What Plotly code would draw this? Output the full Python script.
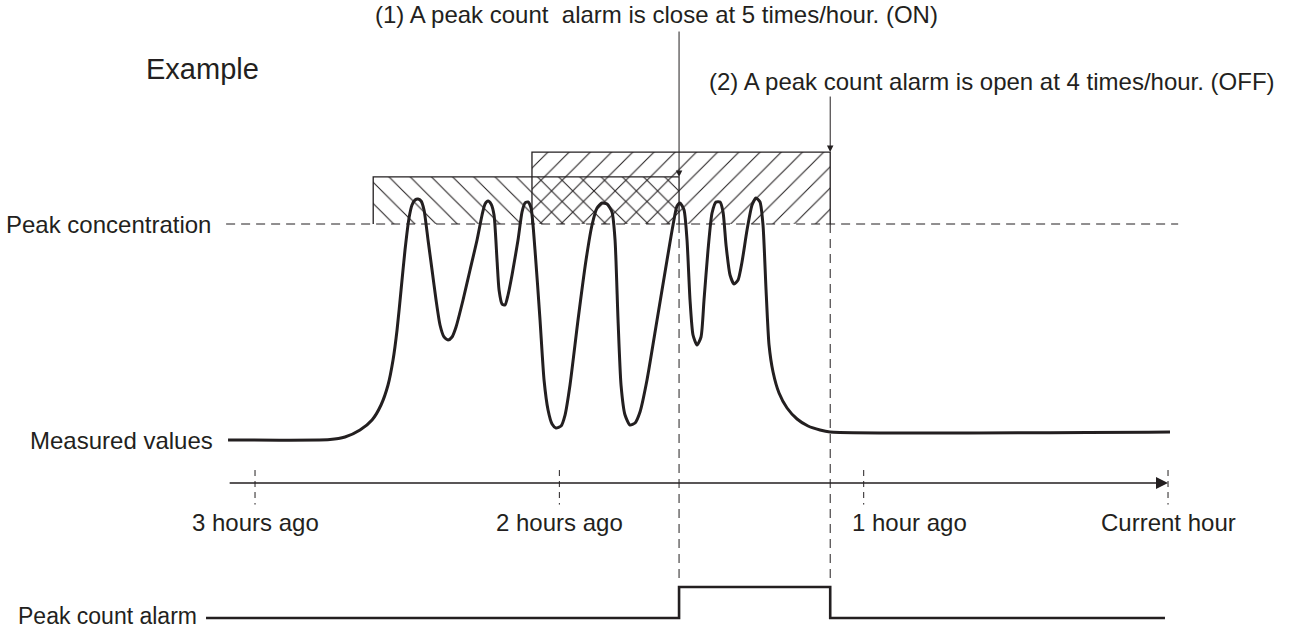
import plotly.graph_objects as go

# ---- data -------------------------------------------------------------
# time in minutes relative to the current hour, concentration in % of the peak level
minutes = [-185.32, -165.21, -162.26, -159.30, -156.93, -155.16, -153.78, -152.79, -152.00,
           -151.21, -150.43, -149.64, -149.05, -148.45, -147.86, -147.27, -146.68, -145.89,
           -145.10, -144.31, -143.53, -142.74, -141.95, -141.16, -140.37, -138.99, -137.61,
           -136.23, -135.24, -134.65, -134.06, -133.47, -132.88, -132.29, -131.89, -131.30,
           -130.71, -130.12, -129.33, -128.15, -127.36, -126.77, -126.18, -125.58, -124.80,
           -123.81, -123.02, -122.23, -121.44, -120.66, -119.67, -118.88, -117.90, -116.32,
           -114.74, -113.56, -112.57, -111.59, -110.60, -109.62, -109.02, -108.43, -107.84,
           -107.05, -106.07, -105.08, -104.10, -102.72, -100.74, -98.77, -97.59, -96.80,
           -96.21, -95.42, -94.83, -94.24, -93.65, -92.86, -92.07, -91.48, -90.69,
           -89.90, -89.11, -88.32, -87.73, -87.14, -86.35, -85.56, -84.77, -83.99,
           -83.00, -82.01, -81.23, -80.44, -79.85, -79.25, -78.66, -77.87, -76.69,
           -75.11, -73.14, -70.97, -68.61, -66.64, 0.39]
concentration = [0.0, 0.23, 1.39, 4.63, 9.26, 16.20, 25.46, 37.04, 50.93,
                 69.44, 87.96, 102.78, 108.80, 111.11, 111.57, 110.65, 106.48, 92.59,
                 78.70, 64.81, 53.24, 47.69, 46.30, 47.69, 52.31, 64.81, 78.70,
                 92.59, 104.17, 109.26, 110.65, 109.26, 104.17, 83.33, 69.44, 62.96,
                 62.50, 67.13, 76.39, 92.59, 105.56, 109.72, 110.19, 107.41, 87.96,
                 55.56, 27.78, 13.89, 7.41, 5.56, 6.48, 11.57, 25.46, 55.56,
                 83.33, 99.54, 107.41, 109.72, 109.26, 105.56, 92.59, 55.56, 25.46,
                 11.57, 6.94, 7.87, 12.96, 27.78, 55.56, 83.33, 99.54, 108.33,
                 109.72, 106.48, 92.59, 64.81, 48.61, 43.98, 47.69, 64.81, 87.96,
                 105.09, 110.19, 110.19, 105.56, 90.28, 76.39, 72.22, 74.07, 82.41,
                 97.22, 108.80, 112.04, 110.19, 99.54, 69.44, 43.98, 31.48, 21.76,
                 14.81, 9.72, 6.48, 4.63, 3.70, 3.70]

peak_level = 100.0
line_start, line_end = -185.7, 2.0

# counting windows (one hour each), start/end minutes and box heights
window_start = [-156.7, -125.4]
window_end = [-96.4, -66.6]
window_top = [121.8, 133.3]
window_hatch = ["\\", "/"]

alarm_on, alarm_off = -96.4, -66.6
alarm_minutes = [-189.66, alarm_on, alarm_off, -0.6]
alarm_state = [0, 1, 0, 0]

tick_minutes = [-180, -120, -60, 0]
tick_labels = ["3 hours ago", "2 hours ago", "1 hour ago", "Current hour"]

note_on = "(1) A peak count&nbsp; alarm is close at 5 times/hour. (ON)"
note_off = "(2) A peak count alarm is open at 4 times/hour. (OFF)"

# ---- styling ----------------------------------------------------------
INK = "#231f20"
FONT = "Liberation Sans, Arial, Helvetica, sans-serif"
FS = 24

X_RANGE = [-230.28, 25.43]
Y_RANGE = [-87.96, 203.70]
Y2_RANGE = [-0.387, 19.94]
AXIS_LEVEL = -19.9  # height of the time arrow on the concentration scale


def y2_to_y(v):
    frac = (v - Y2_RANGE[0]) / (Y2_RANGE[1] - Y2_RANGE[0])
    return Y_RANGE[0] + frac * (Y_RANGE[1] - Y_RANGE[0])


fig = go.Figure()

# hatched counting windows
for s, e, top, hatch in zip(window_start, window_end, window_top, window_hatch):
    fig.add_trace(go.Bar(
        x=[(s + e) / 2], y=[top - peak_level], base=[peak_level], width=[e - s],
        marker=dict(color="rgba(0,0,0,0)", line=dict(width=0),
                    pattern=dict(shape=hatch, fgcolor=INK, bgcolor="rgba(0,0,0,0)",
                                 size=15, solidity=0.07, fillmode="replace")),
        showlegend=False, hoverinfo="skip"))
    fig.add_trace(go.Scatter(
        x=[s, s, e, e], y=[peak_level, top, top, peak_level], mode="lines",
        line=dict(color=INK, width=1.3), showlegend=False, hoverinfo="skip"))

# peak concentration threshold
fig.add_trace(go.Scatter(
    x=[line_start, line_end], y=[peak_level, peak_level], mode="lines",
    line=dict(color=INK, width=1, dash="9px,6px"), showlegend=False, hoverinfo="skip"))

# alarm switching instants
for t in (alarm_on, alarm_off):
    fig.add_trace(go.Scatter(
        x=[t, t], y=[peak_level, y2_to_y(1) + 3], mode="lines",
        line=dict(color=INK, width=1, dash="9px,6px"), showlegend=False, hoverinfo="skip"))

# time ticks
for t in tick_minutes:
    fig.add_trace(go.Scatter(
        x=[t, t], y=[AXIS_LEVEL + 6, AXIS_LEVEL - 10], mode="lines",
        line=dict(color=INK, width=1, dash="6px,5px"), showlegend=False, hoverinfo="skip"))

# measured values
fig.add_trace(go.Scatter(
    x=minutes, y=concentration, mode="lines",
    line=dict(color=INK, width=3, shape="spline", smoothing=0.6),
    showlegend=False, hoverinfo="skip"))

# peak count alarm output
fig.add_trace(go.Scatter(
    x=alarm_minutes, y=alarm_state, mode="lines", yaxis="y2",
    line=dict(color=INK, width=2.6, shape="hv"), showlegend=False, hoverinfo="skip"))

ann = []
# time arrow
ann.append(dict(x=0, y=AXIS_LEVEL, ax=-185.3, ay=AXIS_LEVEL, xref="x", yref="y",
                axref="x", ayref="y", text="", showarrow=True, arrowhead=2,
                arrowsize=1.6, arrowwidth=1.5, arrowcolor=INK, standoff=0))
# callout arrows
ann.append(dict(x=alarm_on, y=window_top[0], ax=alarm_on, ay=189.8, xref="x", yref="y",
                axref="x", ayref="y", text="", showarrow=True, arrowhead=2,
                arrowsize=1.3, arrowwidth=1, arrowcolor=INK, standoff=0))
ann.append(dict(x=alarm_off, y=window_top[1], ax=alarm_off, ay=159.7, xref="x", yref="y",
                axref="x", ayref="y", text="", showarrow=True, arrowhead=2,
                arrowsize=1.3, arrowwidth=1, arrowcolor=INK, standoff=0))

# tick labels
label_shift = {"1 hour ago": 9}
for t, lab in zip(tick_minutes, tick_labels):
    ann.append(dict(x=t + label_shift.get(lab, 0), y=AXIS_LEVEL - 18.5, xref="x", yref="y",
                    text=lab, showarrow=False, xanchor="center", yanchor="middle",
                    font=dict(family=FONT, size=FS, color=INK)))

# row labels
ann.append(dict(x=line_start - 2.6, y=peak_level, xref="x", yref="y", text="Peak concentration",
                showarrow=False, xanchor="right", yanchor="middle",
                font=dict(family=FONT, size=FS, color=INK)))
ann.append(dict(x=minutes[0] - 2.6, y=concentration[0], xref="x", yref="y", text="Measured values",
                showarrow=False, xanchor="right", yanchor="middle",
                font=dict(family=FONT, size=FS, color=INK)))
ann.append(dict(x=alarm_minutes[0] - 1.4, y=0, xref="x", yref="y2", text="Peak count alarm",
                showarrow=False, xanchor="right", yanchor="middle", yshift=2,
                font=dict(family=FONT, size=23, color=INK)))

# notes
ann.append(dict(x=-100.9, y=196.8, xref="x", yref="y", text=note_on,
                showarrow=False, xanchor="center", yanchor="middle",
                font=dict(family=FONT, size=FS, color=INK)))
ann.append(dict(x=-90.9, y=166.2, xref="x", yref="y", text=note_off,
                showarrow=False, xanchor="left", yanchor="middle",
                font=dict(family=FONT, size=FS, color=INK)))
ann.append(dict(x=-201.8, y=171.8, xref="x", yref="y", text="Example",
                showarrow=False, xanchor="left", yanchor="middle",
                font=dict(family=FONT, size=29, color=INK)))

fig.update_layout(
    width=1297, height=630, margin=dict(l=0, r=0, t=0, b=0),
    paper_bgcolor="white", plot_bgcolor="white",
    barmode="overlay", bargap=0,
    xaxis=dict(range=X_RANGE, visible=False, fixedrange=True),
    yaxis=dict(range=Y_RANGE, visible=False, fixedrange=True),
    yaxis2=dict(range=Y2_RANGE, visible=False, overlaying="y", fixedrange=True),
    annotations=ann,
    showlegend=False,
)

fig.write_html("out.html", config={"displayModeBar": False})
